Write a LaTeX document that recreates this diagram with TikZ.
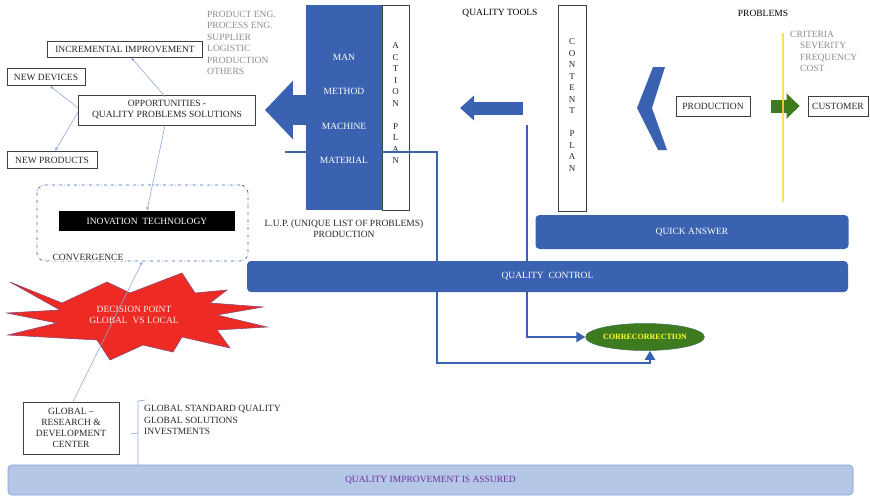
\documentclass[tikz,border=0pt]{standalone}
\usepackage{fontspec}
\setmainfont{Liberation Serif}
\usepackage{xcolor}
\usetikzlibrary{arrows.meta,positioning,shapes.geometric}

\definecolor{qblue}{HTML}{3A62B0}
\definecolor{linkblue}{HTML}{8EAADB}
\definecolor{qgreen}{HTML}{3E7B1E}
\definecolor{qyellow}{HTML}{FFD54A}
\definecolor{barfill}{HTML}{B4C7E7}
\definecolor{barline}{HTML}{7F9FD0}
\definecolor{qpurple}{HTML}{7030A0}
\definecolor{deptgray}{HTML}{8C8C8C}
\definecolor{corrtext}{HTML}{FFFF33}
\definecolor{starred}{HTML}{EE2A24}

\begin{document}
\begin{tikzpicture}[
  x=1pt, y=-1pt,
  every node/.style={font=\fontsize{9.5}{11}\selectfont, inner sep=0pt, text=black!85},
  box/.style={draw=black!75, line width=0.9pt, fill=white, align=center},
  dept/.style={align=left, anchor=north west, text=deptgray, font=\fontsize{9.5}{11.4}\selectfont},
  bar/.style={fill=qblue, rounded corners=4pt, text=white},
  vert/.style={align=center, font=\fontsize{9}{11.5}\selectfont},
  link/.style={-{Latex[length=3.5pt,width=3pt]}, draw=linkblue, line width=0.6pt},
  flow/.style={-{Triangle[length=9pt,width=10pt]}, draw=qblue, line width=2.6pt},
  blockarr/.style={draw=qblue, line cap=butt}
]
\useasboundingbox (0,0) rectangle (870,496);

% opportunities and where they lead
\node[box, minimum width=155, minimum height=16] (incr) at (125,49) {INCREMENTAL IMPROVEMENT};
\node[box, minimum width=78, minimum height=17] (newdev) at (46,77) {NEW DEVICES};
\node[box, minimum width=177, minimum height=30] (opp) at (167,110) {OPPORTUNITIES -\\QUALITY PROBLEMS SOLUTIONS};
\node[box, minimum width=90, minimum height=17] (newprod) at (52,160) {NEW PRODUCTS};
\node[dept] (depts) at (207,11) {PRODUCT ENG.\\PROCESS ENG.\\SUPPLIER\\LOGISTIC\\PRODUCTION\\OTHERS};

% convergence frame
\node[draw=qblue, dash dot, line width=0.7pt, rounded corners=8pt,
      minimum width=211, minimum height=76] (conv) at (142.5,223) {};
\node[fill=black, text=white, minimum width=176, minimum height=20] (inov) at (147,221) {INOVATION\ \ TECHNOLOGY};
\node[fill=white, inner sep=1pt] (convtxt) at (88,257) {CONVERGENCE};

% decision star
\fill[starred, draw=qblue!55!starred, line width=0.6pt]
  (10,282) -- (62,303) -- (107,282) -- (130,293) -- (182,273) -- (195,293)
  -- (227,290) -- (210,303) -- (263,307) -- (217,315) -- (267,327) -- (217,330)
  -- (230,348) -- (182,337) -- (173,352) -- (143,345) -- (110,360) -- (97,340)
  -- (8,335) -- (57,323) -- (7,313) -- (60,310) -- cycle;
\node[align=center, text=white!92!red] (decision) at (134,315) {DECISION POINT\\GLOBAL\ \ VS LOCAL};

% global R&D
\node[box, minimum width=96, minimum height=52] (global) at (71,428) {GLOBAL --\\RESEARCH \&\\DEVELOPMENT\\CENTER};
\node[align=left, anchor=north west, font=\fontsize{9.5}{11.6}\selectfont] (globlist) at (144,405)
  {GLOBAL STANDARD QUALITY\\GLOBAL SOLUTIONS\\INVESTMENTS};
\draw[linkblue, line width=0.7pt] (145,400) -- (138,401) -- (138,465);
\draw[linkblue, line width=0.7pt] (131,434) -- (138,433);

\draw[link] ([yshift=-2pt]opp.north) ++(-2,0) -- ([xshift=6pt]incr.south);
\draw[link] ([yshift=2pt]opp.west) -- ([xshift=4pt]newdev.south);
\draw[link] ([yshift=-2pt]opp.west) -- ([xshift=3pt]newprod.north);
\draw[link] ([xshift=-2pt]opp.south) -- (inov.north);
\draw[link] ([xshift=2pt]global.north) -- (conv.south);

% 4M block and action plan
\node[fill=qblue, minimum width=76, minimum height=205] (fourm) at (344,107.5) {};
\foreach \m [count=\i] in {MAN,METHOD,MACHINE,MATERIAL}
  \node[text=white] (m\i) at (344,23+34.3*\i) {\m};
\node[box, line width=0.7pt, minimum width=27, minimum height=205] (action) at (395.5,107.5) {};
\node[vert] (actiontxt) at ([yshift=4pt]action.center) {A\\C\\T\\I\\O\\N\\~\\P\\L\\A\\N};
\draw[blockarr, line width=30pt, -{Triangle[length=28pt,width=57pt]}] (fourm.west |- opp.east) -- ([xshift=9pt]opp.east);
\node[align=center] (lup) at (344,229) {L.U.P. (UNIQUE LIST OF PROBLEMS)\\PRODUCTION};

% quality tools and content plan
\node[text=black] (tools) at (500,13) {QUALITY TOOLS};
\node[box, line width=0.7pt, minimum width=28, minimum height=206] (content) at (572,108) {};
\node[vert] (contenttxt) at ([yshift=3pt]content.center) {C\\O\\N\\T\\E\\N\\T\\~\\P\\L\\A\\N};
\coordinate (qtail) at (523,108);
\coordinate (qtip) at (460,108);
\draw[blockarr, line width=13pt, -{Triangle[length=14pt,width=24pt]}] (qtail) -- (qtip);

% problems side
\node[text=black] (problems) at (763,13) {PROBLEMS};
\fill[qblue] (653,67) -- (665,67) -- (652,108) -- (667,150) -- (658,150) -- (637,108) -- cycle;
\node[box, minimum width=74, minimum height=20] (prod) at (713,106) {PRODUCTION};
\node[box, minimum width=60, minimum height=20] (cust) at (838,106) {CUSTOMER};
\draw[draw=qgreen, line width=13pt, -{Triangle[length=13pt,width=25pt]},
      shorten <=21pt, shorten >=8pt] (prod.east) -- (cust.west);
\draw[qyellow, line width=1.2pt, opacity=0.85] (783,33) -- (783,202);
\node[dept] (criteria) at (790,31) {CRITERIA\\\hspace*{10pt}SEVERITY\\\hspace*{10pt}FREQUENCY\\\hspace*{10pt}COST};

% correction and the feedback lines
\node[ellipse, fill=qgreen, draw=qblue!40!qgreen, line width=0.5pt, minimum width=115, minimum height=27,
      text=corrtext, font=\bfseries\fontsize{8}{9.6}\selectfont] (corr) at (645,337) {CORRECORRECTION};
\coordinate (lupfrom) at (285,152);
\coordinate (lupturn) at (437,363);
\draw[flow, line cap=butt] (lupfrom) -| (lupturn) -| ([xshift=5pt]corr.south);
\coordinate (qtfrom) at (527,125);
\draw[flow] (qtfrom) |- (corr.west);

% bars
\node[bar, minimum width=313, minimum height=34] (quick) at (692,232) {QUICK ANSWER};
\node[bar, minimum width=601, minimum height=31] (control) at (547.5,276.5) {QUALITY\ \ CONTROL};
\node[draw=barline, fill=barfill, rounded corners=4pt, line width=0.7pt, text=qpurple,
      minimum width=845, minimum height=30] (assured) at (430.5,480) {QUALITY IMPROVEMENT IS ASSURED};
\end{tikzpicture}
\end{document}
